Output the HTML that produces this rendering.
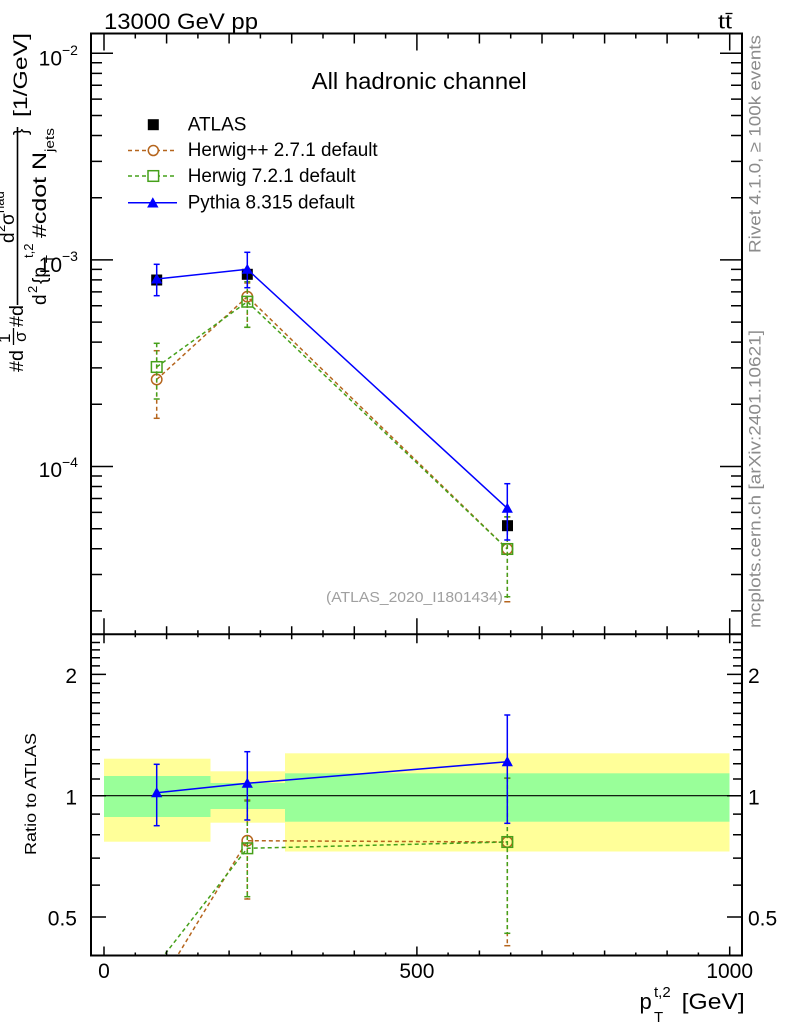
<!DOCTYPE html>
<html><head><meta charset="utf-8">
<style>
html,body{margin:0;padding:0;background:#fff;}
svg{display:block;}
text{font-family:"Liberation Sans",Arial,sans-serif;}
</style></head>
<body>
<svg width="786" height="1024" viewBox="0 0 786 1024" xmlns="http://www.w3.org/2000/svg">
<defs>
<clipPath id="cm"><rect x="91" y="33.5" width="651" height="600.8"/></clipPath>
<clipPath id="cr"><rect x="91" y="634.3" width="651" height="321.2"/></clipPath>
</defs>
<rect width="786" height="1024" fill="#fff"/>

<!-- ratio bands -->
<g clip-path="url(#cr)">
<rect x="104" y="758.7" width="106.5" height="83" fill="#ffff99"/>
<rect x="104" y="776" width="106.5" height="41" fill="#99ff99"/>
<rect x="210.5" y="771.3" width="74.5" height="51.4" fill="#ffff99"/>
<rect x="210.5" y="783" width="74.5" height="26" fill="#99ff99"/>
<rect x="285" y="753.3" width="444.5" height="98.2" fill="#ffff99"/>
<rect x="285" y="773.3" width="444.5" height="48.4" fill="#99ff99"/>
<line x1="91" y1="795.7" x2="742" y2="795.7" stroke="#000" stroke-width="1.2"/>
</g>

<!-- main panel series -->
<g clip-path="url(#cm)">
<rect x="151.2" y="274.5" width="11" height="11" fill="#000"/>
<rect x="241.8" y="268.8" width="11" height="11" fill="#000"/>
<rect x="502" y="520.2" width="11" height="11" fill="#000"/>
<g stroke="#b5651d" stroke-width="1.5" fill="none">
<polyline points="156.7,379.5 247.3,296.7 507.3,549" stroke-dasharray="4,3"/>
<line x1="156.7" y1="350.7" x2="156.7" y2="418.3" stroke-dasharray="4,3"/>
<line x1="247.3" y1="283" x2="247.3" y2="327.3" stroke-dasharray="4,3"/>
<line x1="507.3" y1="517" x2="507.3" y2="601.7" stroke-dasharray="4,3"/>
<line x1="153.7" y1="350.7" x2="159.7" y2="350.7"/><line x1="153.7" y1="418.3" x2="159.7" y2="418.3"/>
<line x1="244.3" y1="283" x2="250.3" y2="283"/><line x1="244.3" y1="327.3" x2="250.3" y2="327.3"/>
<line x1="504.3" y1="517" x2="510.3" y2="517"/><line x1="504.3" y1="601.7" x2="510.3" y2="601.7"/>
<circle cx="156.7" cy="379.5" r="5.2"/>
<circle cx="247.3" cy="296.7" r="5.2"/>
<circle cx="507.3" cy="549" r="5.2"/>
</g>
<g stroke="#45a01a" stroke-width="1.5" fill="none">
<polyline points="156.7,367 247.3,301.7 507.3,549" stroke-dasharray="4,3"/>
<line x1="156.7" y1="343.3" x2="156.7" y2="399" stroke-dasharray="4,3"/>
<line x1="247.3" y1="281.7" x2="247.3" y2="327.3" stroke-dasharray="4,3"/>
<line x1="507.3" y1="516.7" x2="507.3" y2="596.7" stroke-dasharray="4,3"/>
<line x1="153.7" y1="343.3" x2="159.7" y2="343.3"/><line x1="153.7" y1="399" x2="159.7" y2="399"/>
<line x1="244.3" y1="281.7" x2="250.3" y2="281.7"/><line x1="244.3" y1="327.3" x2="250.3" y2="327.3"/>
<line x1="504.3" y1="516.7" x2="510.3" y2="516.7"/><line x1="504.3" y1="596.7" x2="510.3" y2="596.7"/>
<rect x="151.4" y="361.7" width="10.6" height="10.6"/>
<rect x="242" y="296.4" width="10.6" height="10.6"/>
<rect x="502" y="543.7" width="10.6" height="10.6"/>
</g>
<g stroke="#0000ff" stroke-width="1.5" fill="none">
<polyline points="156.7,279 247.3,269.3 507.3,508.3"/>
<line x1="156.7" y1="264.3" x2="156.7" y2="295.7"/>
<line x1="247.3" y1="252.3" x2="247.3" y2="287.7"/>
<line x1="507.3" y1="483.7" x2="507.3" y2="540"/>
<line x1="153.7" y1="264.3" x2="159.7" y2="264.3"/><line x1="153.7" y1="295.7" x2="159.7" y2="295.7"/>
<line x1="244.3" y1="252.3" x2="250.3" y2="252.3"/><line x1="244.3" y1="287.7" x2="250.3" y2="287.7"/>
<line x1="504.3" y1="483.7" x2="510.3" y2="483.7"/><line x1="504.3" y1="540" x2="510.3" y2="540"/>
</g>
<g fill="#0000ff">
<polygon points="156.7,273.3 162.3,283.5 151.1,283.5"/>
<polygon points="247.3,263.6 252.9,273.8 241.7,273.8"/>
<polygon points="507.3,502.6 512.9,512.8 501.7,512.8"/>
</g>
</g>

<!-- ratio series -->
<g clip-path="url(#cr)">
<g stroke="#b5651d" stroke-width="1.5" fill="none">
<polyline points="156.7,989.8 247.3,840.7 507.3,842" stroke-dasharray="4,3"/>
<line x1="247.3" y1="800" x2="247.3" y2="899" stroke-dasharray="4,3"/>
<line x1="507.3" y1="778.3" x2="507.3" y2="945.7" stroke-dasharray="4,3"/>
<line x1="244.3" y1="800" x2="250.3" y2="800"/><line x1="244.3" y1="899" x2="250.3" y2="899"/>
<line x1="504.3" y1="778.3" x2="510.3" y2="778.3"/><line x1="504.3" y1="945.7" x2="510.3" y2="945.7"/>
<circle cx="247.3" cy="840.7" r="5.2"/>
<circle cx="507.3" cy="842" r="5.2"/>
</g>
<g stroke="#45a01a" stroke-width="1.5" fill="none">
<polyline points="156.7,964.8 247.3,848.3 507.3,842" stroke-dasharray="4,3"/>
<line x1="247.3" y1="801" x2="247.3" y2="896.7" stroke-dasharray="4,3"/>
<line x1="507.3" y1="778" x2="507.3" y2="933.3" stroke-dasharray="4,3"/>
<line x1="244.3" y1="801" x2="250.3" y2="801"/><line x1="244.3" y1="896.7" x2="250.3" y2="896.7"/>
<line x1="504.3" y1="778" x2="510.3" y2="778"/><line x1="504.3" y1="933.3" x2="510.3" y2="933.3"/>
<rect x="242" y="843" width="10.6" height="10.6"/>
<rect x="502" y="836.7" width="10.6" height="10.6"/>
</g>
<g stroke="#0000ff" stroke-width="1.5" fill="none">
<polyline points="156.7,792.7 247.3,783.3 507.3,761.7"/>
<line x1="156.7" y1="764.3" x2="156.7" y2="825.7"/>
<line x1="247.3" y1="751.7" x2="247.3" y2="820"/>
<line x1="507.3" y1="715" x2="507.3" y2="823.3"/>
<line x1="153.7" y1="764.3" x2="159.7" y2="764.3"/><line x1="153.7" y1="825.7" x2="159.7" y2="825.7"/>
<line x1="244.3" y1="751.7" x2="250.3" y2="751.7"/><line x1="244.3" y1="820" x2="250.3" y2="820"/>
<line x1="504.3" y1="715" x2="510.3" y2="715"/><line x1="504.3" y1="823.3" x2="510.3" y2="823.3"/>
</g>
<g fill="#0000ff">
<polygon points="156.7,787 162.3,797.2 151.1,797.2"/>
<polygon points="247.3,777.6 252.9,787.8 241.7,787.8"/>
<polygon points="507.3,756 512.9,766.2 501.7,766.2"/>
</g>
</g>

<!-- frame -->
<g stroke="#000" stroke-width="2" fill="none">
<rect x="91" y="33.5" width="651" height="922"/>
<line x1="91" y1="634.3" x2="742" y2="634.3"/>
</g>

<!-- ticks -->
<g stroke="#000" stroke-width="1.5">
<path d="M91 53.3H113M91 259.9H113M91 466.5H113M742 53.3H720M742 259.9H720M742 466.5H720"/>
<path d="M91 62.75h11M91 73.32h11M91 85.3h11M91 99.13h11M91 115.49h11M91 135.51h11M91 161.33h11M91 197.71h11
M91 269.35h11M91 279.92h11M91 291.9h11M91 305.73h11M91 322.09h11M91 342.11h11M91 367.93h11M91 404.31h11
M91 475.95h11M91 486.52h11M91 498.5h11M91 512.33h11M91 528.69h11M91 548.71h11M91 574.53h11M91 610.91h11
M742 62.75h-11M742 73.32h-11M742 85.3h-11M742 99.13h-11M742 115.49h-11M742 135.51h-11M742 161.33h-11M742 197.71h-11
M742 269.35h-11M742 279.92h-11M742 291.9h-11M742 305.73h-11M742 322.09h-11M742 342.11h-11M742 367.93h-11M742 404.31h-11
M742 475.95h-11M742 486.52h-11M742 498.5h-11M742 512.33h-11M742 528.69h-11M742 548.71h-11M742 574.53h-11M742 610.91h-11"/>
<path d="M91 917H106M91 795.7H106M91 674.4H106M742 917H727M742 795.7H727M742 674.4H727"/>
<path d="M91 885.1h9M91 858.1h9M91 834.8h9M91 814.1h9M91 779h9M91 763.8h9M91 749.8h9M91 736.8h9M91 724.7h9M91 713.4h9M91 702.8h9M91 692.8h9M91 683.4h9M91 665.9h9M91 657.7h9M91 649.9h9M91 642.5h9
M742 885.1h-9M742 858.1h-9M742 834.8h-9M742 814.1h-9M742 779h-9M742 763.8h-9M742 749.8h-9M742 736.8h-9M742 724.7h-9M742 713.4h-9M742 702.8h-9M742 692.8h-9M742 683.4h-9M742 665.9h-9M742 657.7h-9M742 649.9h-9M742 642.5h-9"/>
<path d="M104 33.5v17M416.9 33.5v17M729.7 33.5v17
M166.6 33.5v10M229.1 33.5v10M291.7 33.5v10M354.3 33.5v10M479.4 33.5v10M542 33.5v10M604.6 33.5v10M667.1 33.5v10
M135.3 33.5v5M197.9 33.5v5M260.4 33.5v5M323 33.5v5M385.6 33.5v5M448.1 33.5v5M510.7 33.5v5M573.3 33.5v5M635.8 33.5v5M698.4 33.5v5"/>
<path d="M104 618.3v25M416.9 618.3v25M729.7 618.3v25
M166.6 626.3v13M229.1 626.3v13M291.7 626.3v13M354.3 626.3v13M479.4 626.3v13M542 626.3v13M604.6 626.3v13M667.1 626.3v13
M135.3 630.3v7M197.9 630.3v7M260.4 630.3v7M323 630.3v7M385.6 630.3v7M448.1 630.3v7M510.7 630.3v7M573.3 630.3v7M635.8 630.3v7M698.4 630.3v7"/>
<path d="M104 955.5v-9M416.9 955.5v-9M729.7 955.5v-9
M166.6 955.5v-5M229.1 955.5v-5M291.7 955.5v-5M354.3 955.5v-5M479.4 955.5v-5M542 955.5v-5M604.6 955.5v-5M667.1 955.5v-5
M135.3 955.5v-3M197.9 955.5v-3M260.4 955.5v-3M323 955.5v-3M385.6 955.5v-3M448.1 955.5v-3M510.7 955.5v-3M573.3 955.5v-3M635.8 955.5v-3M698.4 955.5v-3"/>
</g>

<g font-size="21" fill="#000">
<text x="62" y="65.5" text-anchor="end">10</text>
<text x="62" y="272" text-anchor="end">10</text>
<text x="62" y="477" text-anchor="end">10</text>
</g>
<g font-size="14" fill="#000">
<text x="62" y="55">−2</text>
<text x="62" y="261">−3</text>
<text x="62" y="467">−4</text>
</g>
<g font-size="21" fill="#000">
<text x="77" y="683" text-anchor="end">2</text>
<text x="77" y="804.5" text-anchor="end">1</text>
<text x="77" y="925.5" text-anchor="end">0.5</text>
<text x="748" y="683">2</text>
<text x="748" y="804.5">1</text>
<text x="748" y="925.5">0.5</text>
<text x="104" y="978" text-anchor="middle">0</text>
<text x="416.9" y="978" text-anchor="middle">500</text>
<text x="729.7" y="978" text-anchor="middle">1000</text>
</g>

<text x="639.5" y="1009" font-size="22">p</text>
<text x="654" y="997" font-size="15">t,2</text>
<text x="654" y="1022" font-size="15">T</text>
<text x="681.7" y="1009" font-size="22" textLength="63" lengthAdjust="spacingAndGlyphs">[GeV]</text>

<text x="104" y="29" font-size="22" textLength="154" lengthAdjust="spacingAndGlyphs">13000 GeV pp</text>
<text x="718" y="28.5" font-size="20" textLength="14" lengthAdjust="spacingAndGlyphs">tt</text>
<line x1="725.5" y1="13.5" x2="732.5" y2="13.5" stroke="#000" stroke-width="1.3"/>
<text x="311.7" y="89" font-size="23" textLength="215" lengthAdjust="spacingAndGlyphs">All hadronic channel</text>

<rect x="147.8" y="119.2" width="11" height="11" fill="#000"/>
<line x1="128" y1="150.5" x2="177" y2="150.5" stroke="#b5651d" stroke-width="1.5" stroke-dasharray="4,3"/>
<circle cx="153.3" cy="150.5" r="5" fill="#fff" stroke="#b5651d" stroke-width="1.5"/>
<line x1="128" y1="176" x2="177" y2="176" stroke="#45a01a" stroke-width="1.5" stroke-dasharray="4,3"/>
<rect x="148" y="170.7" width="10.6" height="10.6" fill="#fff" stroke="#45a01a" stroke-width="1.5"/>
<line x1="128" y1="202.7" x2="177" y2="202.7" stroke="#0000ff" stroke-width="1.5"/>
<polygon points="152.8,197.3 158.5,207.5 147.1,207.5" fill="#0000ff"/>
<g font-size="19" fill="#000">
<text x="187.7" y="130.5">ATLAS</text>
<text x="187.7" y="156" textLength="190" lengthAdjust="spacingAndGlyphs">Herwig++ 2.7.1 default</text>
<text x="187.7" y="182" textLength="168" lengthAdjust="spacingAndGlyphs">Herwig 7.2.1 default</text>
<text x="187.7" y="208.5" textLength="167" lengthAdjust="spacingAndGlyphs">Pythia 8.315 default</text>
</g>

<text x="503" y="602" font-size="15" fill="#a0a0a0" text-anchor="end" textLength="177" lengthAdjust="spacingAndGlyphs">(ATLAS_2020_I1801434)</text>

<text transform="translate(760.5,253) rotate(-90)" font-size="17" fill="#8c8c8c" textLength="218" lengthAdjust="spacingAndGlyphs">Rivet 4.1.0, ≥ 100k events</text>
<text transform="translate(760.5,628) rotate(-90)" font-size="17" fill="#8c8c8c" textLength="298" lengthAdjust="spacingAndGlyphs">mcplots.cern.ch [arXiv:2401.10621]</text>

<text transform="translate(36,855) rotate(-90)" font-size="16" fill="#000" textLength="122" lengthAdjust="spacingAndGlyphs">Ratio to ATLAS</text>

<g fill="#000">
<text transform="translate(23,372) rotate(-90)" font-size="19" textLength="22" lengthAdjust="spacingAndGlyphs">#d</text>
<text transform="translate(10,343) rotate(-90)" font-size="17">1</text>
<text transform="translate(26,342) rotate(-90)" font-size="17">σ</text>
<line x1="13.5" y1="328" x2="13.5" y2="345" stroke="#000" stroke-width="1.3"/>
<text transform="translate(23,327) rotate(-90)" font-size="19" textLength="22" lengthAdjust="spacingAndGlyphs">#d</text>
<line x1="17.5" y1="127" x2="17.5" y2="305" stroke="#000" stroke-width="1.6"/>
<text transform="translate(14,243) rotate(-90)" font-size="19">d</text>
<text transform="translate(5,232) rotate(-90)" font-size="13">2</text>
<text transform="translate(14,225) rotate(-90)" font-size="19">σ</text>
<text transform="translate(4,213) rotate(-90)" font-size="13">had</text>
<text transform="translate(46,305) rotate(-90)" font-size="19">d</text>
<text transform="translate(37,293) rotate(-90)" font-size="13">2</text>
<text transform="translate(46,284) rotate(-90)" font-size="19">{p</text>
<text transform="translate(33,258) rotate(-90)" font-size="13">t,2</text>
<text transform="translate(55,263) rotate(-90)" font-size="13">T</text>
<text transform="translate(46,238) rotate(-90)" font-size="19" textLength="86" lengthAdjust="spacingAndGlyphs">#cdot N</text>
<text transform="translate(54,152) rotate(-90)" font-size="13" textLength="24" lengthAdjust="spacingAndGlyphs">jets</text>
<text transform="translate(27,135) rotate(-90)" font-size="19">}</text>
<text transform="translate(27,117) rotate(-90)" font-size="19" textLength="84" lengthAdjust="spacingAndGlyphs">[1/GeV]</text>
</g>
</svg>
</body></html>
